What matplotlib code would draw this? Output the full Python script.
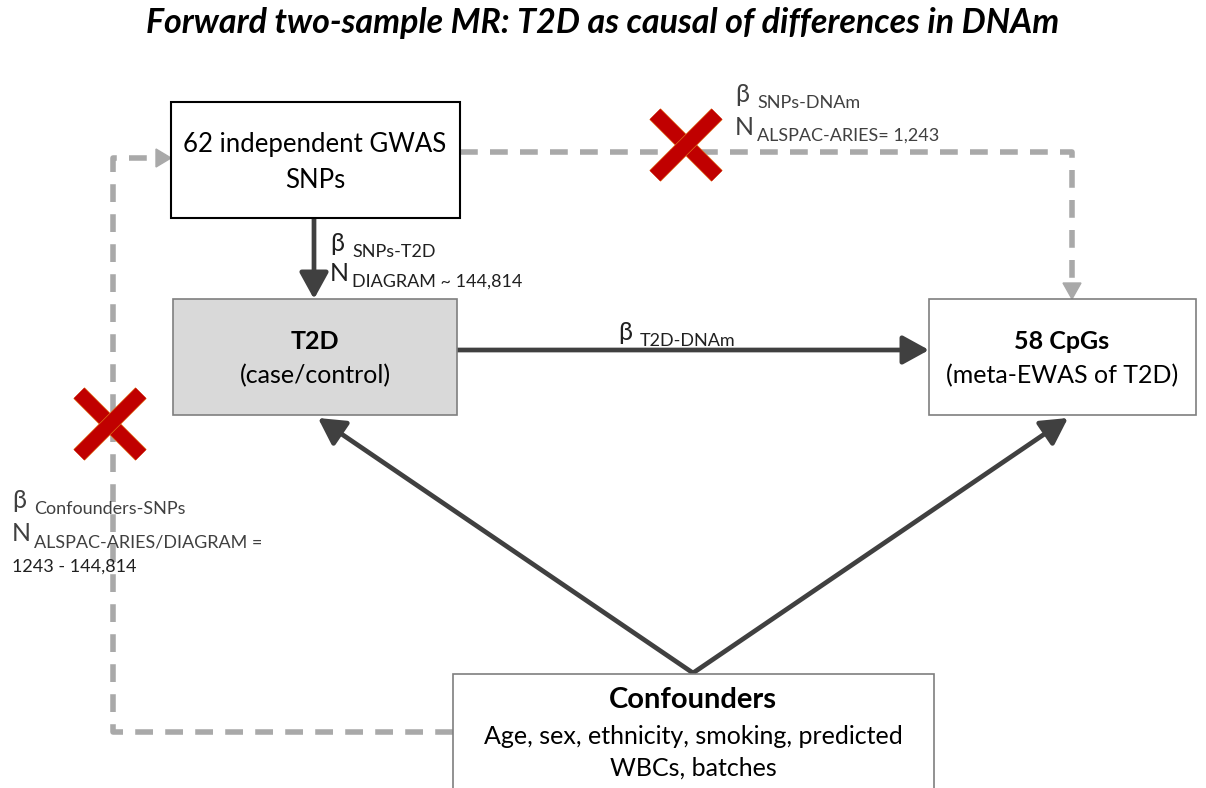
import matplotlib
matplotlib.use("Agg")
import matplotlib.pyplot as plt
from matplotlib.patches import Rectangle, FancyArrowPatch
import matplotlib.patheffects as pe

plt.rcParams['font.family'] = ['Lato', 'DejaVu Sans']

# texts of the diagram
title = "Forward two-sample MR: T2D as causal of differences in DNAm"
snp_box = ["62 independent GWAS", "SNPs"]
t2d_box = ["T2D", "(case/control)"]
cpg_box = ["58 CpGs", "(meta-EWAS of T2D)"]
conf_box = ["Confounders", "Age, sex, ethnicity, smoking, predicted", "WBCs, batches"]
lab_snp_t2d = [("β", "SNPs-T2D"), ("N", "DIAGRAM ~ 144,814")]
lab_snp_dnam = [("β", "SNPs-DNAm"), ("N", "ALSPAC-ARIES= 1,243")]
lab_t2d_dnam = [("β", "T2D-DNAm")]
lab_conf_snp = [("β", "Confounders-SNPs"), ("N", "ALSPAC-ARIES/DIAGRAM =")]
lab_conf_extra = "1243 - 144,814"

dark = "#404040"
grey = "#a9a9a9"
red = "#c00000"

fig = plt.figure(figsize=(12.06, 7.88), dpi=100)
ax = fig.add_axes([0, 0, 1, 1])
ax.set_xlim(0, 1206)
ax.set_ylim(788, 0)
ax.axis("off")

ax.text(603, 23, title, ha="center", va="center", fontsize=24.5,
        fontweight="bold", style="italic", color="black")

# boxes
def box(x0, y0, x1, y1, fc, ec, lw=1.2):
    ax.add_patch(Rectangle((x0, y0), x1 - x0, y1 - y0, facecolor=fc,
                           edgecolor=ec, linewidth=lw, zorder=3))

box(171, 102, 460, 218, "white", "black", 1.5)
box(173, 299, 457, 415, "#d9d9d9", "#7f7f7f")
box(929, 299, 1196, 415, "white", "#7f7f7f")
box(453, 674, 934, 800, "white", "#7f7f7f")

ax.text(315, 144, snp_box[0], ha="center", va="center", fontsize=18.5, zorder=4)
ax.text(315, 180, snp_box[1], ha="center", va="center", fontsize=18.5, zorder=4)
ax.text(315, 341, t2d_box[0], ha="center", va="center", fontsize=18, fontweight="bold", zorder=4)
ax.text(315, 376, t2d_box[1], ha="center", va="center", fontsize=18, zorder=4)
ax.text(1062, 341, cpg_box[0], ha="center", va="center", fontsize=18, fontweight="bold", zorder=4)
ax.text(1062, 376, cpg_box[1], ha="center", va="center", fontsize=18, zorder=4)
ax.text(693, 700, conf_box[0], ha="center", va="center", fontsize=21, fontweight="bold", zorder=4)
ax.text(693, 736, conf_box[1], ha="center", va="center", fontsize=18, zorder=4)
ax.text(693, 768, conf_box[2], ha="center", va="center", fontsize=18, zorder=4)

# solid arrows
def solid_arrow(p0, p1):
    ax.add_patch(FancyArrowPatch(p0, p1, arrowstyle="-|>,head_length=1.0,head_width=0.55",
                                 mutation_scale=16, color=dark, linewidth=3.4,
                                 shrinkA=0, shrinkB=0, zorder=2))

solid_arrow((314, 218), (314, 299))
solid_arrow((457, 350), (929, 350))
solid_arrow((693, 673), (318, 418))
solid_arrow((693, 673), (1068, 418))

# dashed paths
dash = dict(color=grey, linewidth=4, linestyle=(0, (3.2, 2.2)), solid_capstyle="butt", zorder=1)
ax.plot([460, 1072, 1072], [152, 152, 286], **dash)
ax.plot([453, 113, 113, 160], [732, 732, 158, 158], **dash)
ax.add_patch(plt.Polygon([(1063, 283), (1081, 283), (1072, 299)], color=grey, zorder=1))
ax.add_patch(plt.Polygon([(156, 149), (156, 167), (171, 158)], color=grey, zorder=1))

# red crosses
def cross(cx, cy, r):
    for dx in (r, -r):
        ax.plot([cx - dx, cx + dx], [cy - r, cy + r], color=red, linewidth=10.5,
                solid_capstyle="butt", zorder=5,
                path_effects=[pe.Stroke(linewidth=11.5, foreground="#e0701a"), pe.Normal()])

cross(686, 145, 31)
cross(110, 424, 31)

# labels with subscripts
def label(x, y, parts, big=18, small=13, color=dark, dy=33):
    for i, (main, sub) in enumerate(parts):
        yy = y + i * dy
        ax.text(x, yy, main, ha="left", va="baseline", fontsize=big, color=color, zorder=6)
        ax.text(x + 22, yy + 6, sub, ha="left", va="baseline", fontsize=small, color=color, zorder=6)

label(735, 102, lab_snp_dnam)
label(330, 251, lab_snp_t2d, color="#202020", dy=30)
label(618, 340, lab_t2d_dnam, color="#202020")
label(12, 508, lab_conf_snp, dy=33)
ax.text(12, 572, lab_conf_extra, ha="left", va="baseline", fontsize=13, color="#202020")

fig.savefig("out.png", dpi=100)
